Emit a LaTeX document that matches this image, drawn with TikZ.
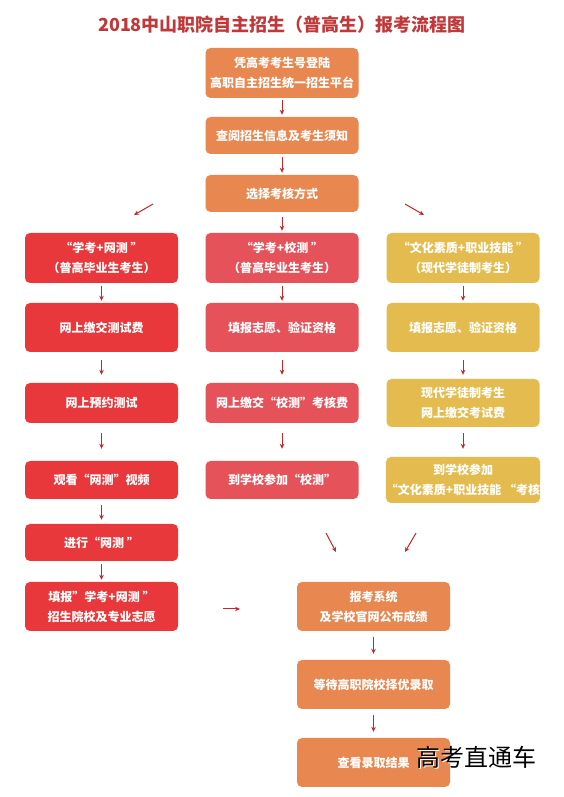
\documentclass[tikz,border=0pt]{standalone}
\usepackage{fontspec}
\newfontfamily\cjk{Noto Sans CJK SC}
\usetikzlibrary{arrows.meta}
\definecolor{orangeB}{HTML}{E8874F}
\definecolor{redL}{HTML}{E8383B}
\definecolor{redM}{HTML}{E5525A}
\definecolor{yellowB}{HTML}{E4BB4F}
\definecolor{arrowred}{HTML}{C6262E}
\definecolor{titlered}{HTML}{C0383A}
\tikzset{
  box/.style={rounded corners=5pt, minimum width=153pt, text=white, align=center,
    font=\cjk\bfseries\fontsize{12}{20}\selectfont, inner sep=0pt},
  obox/.style={box, fill=orangeB},
  lbox/.style={box, fill=redL},
  mbox/.style={box, fill=redM},
  ybox/.style={box, fill=yellowB},
  arr/.style={draw=arrowred, line width=1pt, -{Stealth[length=5pt,width=4.5pt]}},
}
\begin{document}
\begin{tikzpicture}[x=1pt,y=1pt]
\useasboundingbox (0,0) rectangle (563,797);
\fill[white] (0,0) rectangle (563,797);
% title
\node[text=titlered, font=\cjk\bfseries\fontsize{18}{22}\selectfont] (title) at (282,772) {2018中山职院自主招生（普高生）报考流程图};
% top column
\node[obox, minimum height=50pt] (b1) at (282,724) {凭高考考生号登陆\\高职自主招生统一招生平台};
\node[obox, minimum height=37pt] (b2) at (282,661.5) {查阅招生信息及考生须知};
\node[obox, minimum height=37pt] (b3) at (282,603.5) {选择考核方式};
% left column
\node[lbox, minimum height=50pt] (l1) at (101.5,539) {“学考+网测 ”\\（普高毕业生考生）};
\node[lbox, minimum height=49pt] (l2) at (101.5,469.5) {网上缴交测试费};
\node[lbox, minimum height=40pt] (l3) at (101.5,394) {网上预约测试};
\node[lbox, minimum height=38pt] (l4) at (101.5,317) {观看“网测”视频};
\node[lbox, minimum height=37pt] (l5) at (101.5,254.5) {进行“网测 ”};
\node[lbox, minimum height=49pt] (l6) at (101.5,190.5) {填报”学考+网测 ”\\招生院校及专业志愿};
% middle column
\node[mbox, minimum height=50pt] (m1) at (282,539) {“学考+校测 ”\\（普高毕业生考生）};
\node[mbox, minimum height=49pt] (m2) at (282,469.5) {填报志愿、验证资格};
\node[mbox, minimum height=40pt] (m3) at (282,394) {网上缴交“校测”考核费};
\node[mbox, minimum height=38pt] (m4) at (282,317) {到学校参加“校测”};
% right column
\node[ybox, minimum height=50pt] (r1) at (463,539) {“文化素质+职业技能 ”\\（现代学徒制考生）};
\node[ybox, minimum height=49pt] (r2) at (463,469.5) {填报志愿、验证资格};
\node[ybox, minimum height=48pt] (r3) at (463,394) {现代学徒制考生\\网上缴交考试费};
\node[ybox, minimum height=46pt] (r4) at (463,317) {到学校参加\\“文化素质+职业技能 “考核};
% results
\node[obox, minimum height=49pt] (s1) at (373.5,190.5) {报考系统\\及学校官网公布成绩};
\node[obox, minimum height=49pt] (s2) at (373.5,112.5) {等待高职院校择优录取};
\node[obox, minimum height=49pt] (s3) at (373.5,34.5) {查看录取结果};
% watermark
\node[text=white, font=\cjk\fontsize{24}{28}\selectfont] (wms) at (477,39) {高考直通车};
\node[text=black, font=\cjk\fontsize{24}{28}\selectfont] (wm) at (476,40) {高考直通车};
% free-end coordinates
\coordinate (dl1) at (153,593);
\coordinate (dl2) at (134,582);
\coordinate (dr1) at (405,593);
\coordinate (dr2) at (424,582);
\coordinate (el1) at (326,264);
\coordinate (el2) at (336,245);
\coordinate (er1) at (416,264);
\coordinate (er2) at (405,245);
\coordinate (h1) at (223,188);
\coordinate (h2) at (240,188);
% arrows top
\draw[arr, shorten <=2pt, shorten >=2pt] (b1) -- (b2);
\draw[arr, shorten <=3pt, shorten >=2pt] (b2) -- (b3);
\draw[arr, shorten <=5pt, shorten >=2pt] (b3) -- (m1);
\draw[arr] (dl1) -- (dl2);
\draw[arr] (dr1) -- (dr2);
% left arrows
\draw[arr, shorten <=3pt, shorten >=2pt] (l1) -- (l2);
\draw[arr, shorten <=8pt, shorten >=8pt] (l2) -- (l3);
\draw[arr, shorten <=10pt, shorten >=12pt] (l3) -- (l4);
\draw[arr, shorten <=6pt, shorten >=4pt] (l4) -- (l5);
\draw[arr, shorten <=3pt, shorten >=2pt] (l5) -- (l6);
% middle arrows
\draw[arr, shorten <=3pt, shorten >=2pt] (m1) -- (m2);
\draw[arr, shorten <=8pt, shorten >=8pt] (m2) -- (m3);
\draw[arr, shorten <=10pt, shorten >=12pt] (m3) -- (m4);
% right arrows
\draw[arr, shorten <=3pt, shorten >=2pt] (r1) -- (r2);
\draw[arr, shorten <=8pt, shorten >=4pt] (r2) -- (r3);
\draw[arr, shorten <=6pt, shorten >=8pt] (r3) -- (r4);
% bottom arrows
\draw[arr] (el1) -- (el2);
\draw[arr] (er1) -- (er2);
\draw[arr] (h1) -- (h2);
\draw[arr, shorten <=6pt, shorten >=6pt] (s1) -- (s2);
\draw[arr, shorten <=6pt, shorten >=6pt] (s2) -- (s3);
\end{tikzpicture}
\end{document}
